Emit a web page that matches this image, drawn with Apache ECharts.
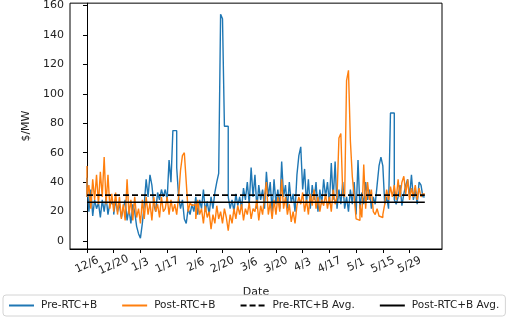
<!DOCTYPE html>
<html>
<head>
<meta charset="utf-8">
<script src="https://cdn.jsdelivr.net/npm/echarts@6/dist/echarts.min.js"></script>
<style>
  html, body { margin: 0; padding: 0; background: #fff; }
  #chart { width: 512px; height: 320px; }
</style>
</head>
<body>
<div id="chart"></div>
<script>
// daily values, index 0 = 12/6
const preRtc = [
  30, 43, 20, 35, 17, 28, 22, 26, 16, 28, 20, 30, 18, 26,
  25, 18, 28, 20, 25, 16, 22, 28, 14, 22, 12, 25, 20, 10,
  5, 2, 12, 25, 42, 30, 45, 38, 25, 20, 33, 28, 35, 30,
  35, 28, 55, 40, 75, 75, 50, 30, 22, 28, 15, 12, 22, 18, 25,
  20, 30, 18, 28, 22, 35, 20, 27, 18, 30, 22, 33, 40, 46,
  154, 151, 78, 78, 30, 22, 28, 20, 32, 24, 30, 22, 36, 28,
  40, 25, 50, 30, 45, 22, 38, 28, 35, 22, 47, 30, 40, 20,
  42, 25, 35, 22, 54, 30, 38, 22, 40, 26, 32, 20, 45, 58,
  64, 35, 49, 25, 42, 22, 38, 28, 40, 20, 35, 25, 42, 30,
  40, 25, 53, 28, 54, 22, 35, 25, 40, 22, 30, 20, 35, 25,
  40, 18, 55, 22, 33, 25, 40, 28, 35, 22, 30, 25, 38, 51,
  57, 51, 25, 30, 22, 87, 87, 28, 25, 30, 38, 24, 32, 38,
  42, 30, 45, 28, 35, 25, 40, 38, 30
];
const postRtc = [
  51, 30, 38, 22, 42, 28, 45, 25, 47, 30, 57, 25, 45, 22,
  32, 20, 33, 18, 30, 15, 25, 14, 42, 18, 28, 14, 30, 16,
  22, 12, 28, 15, 30, 18, 26, 14, 30, 20, 25, 16, 30, 20,
  22, 30, 18, 28, 20, 25, 18, 30, 48, 58, 60, 40, 20, 26, 24,
  25, 15, 28, 18, 22, 12, 24, 16, 20, 8, 18, 12, 24, 15,
  20, 12, 22, 16, 7, 18, 12, 22, 15, 24, 18, 25, 14, 22,
  18, 26, 15, 22, 20, 28, 14, 24, 18, 30, 40, 18, 26, 15,
  28, 18, 30, 20, 42, 22, 30, 18, 25, 13, 20, 12, 24, 30,
  25, 33, 20, 28, 18, 32, 24, 35, 22, 30, 20, 28, 24, 32,
  22, 30, 20, 35, 25, 30, 70, 73, 32, 30, 109, 116, 68, 44,
  30, 15, 14, 25, 16, 52, 22, 40, 28, 35, 20, 18, 22, 17,
  16, 18, 25, 35, 28, 37, 30, 38, 28, 42, 30, 40, 44, 32,
  42, 28, 36, 30, 38, 28, 36, 30, 32
];
const preAvg = 31.2;
const postAvg = 26.4;

const tickIdx = [0, 14, 28, 42, 57, 71, 85, 99, 113, 127, 141, 155, 169];
const tickLabels = ['12/6', '12/20', '1/3', '1/17', '2/6', '2/20', '3/6', '3/20', '4/3', '4/17', '5/1', '5/15', '5/29'];
const yTicks = [0, 20, 40, 60, 80, 100, 120, 140, 160];

const toPairs = (arr) => arr.map((v, i) => [i, v]);
const last = preRtc.length - 1;

const chart = echarts.init(document.getElementById('chart'));
const font = 'DejaVu Sans';

chart.setOption({
  animation: false,
  textStyle: { fontFamily: font },
  grid: {
    left: 70, right: 70, top: 3, bottom: 71,
    show: true, borderColor: '#000', borderWidth: 1,
  },
  legend: {
    left: 3, top: 295,
    padding: [5, 6, 5, 5],
    itemGap: 24,
    itemWidth: 25,
    itemHeight: 10,
    borderColor: '#d4d4d4',
    borderWidth: 1,
    borderRadius: 3,
    itemStyle: { opacity: 0 },
    textStyle: { fontFamily: font, fontSize: 10.5, color: '#222', padding: [0, 0, 0, 2] },
    data: ['Pre-RTC+B', 'Post-RTC+B', 'Pre-RTC+B Avg.', 'Post-RTC+B Avg.'],
  },
  xAxis: {
    type: 'value',
    min: -8.9,
    max: 186,
    name: 'Date',
    nameLocation: 'middle',
    nameGap: 38,
    nameTextStyle: { fontFamily: font, fontSize: 11, color: '#222' },
    splitLine: { show: false },
    axisLine: { show: true, onZero: false, lineStyle: { color: '#000', width: 1 } },
    axisTick: { show: true, length: 4, customValues: tickIdx, lineStyle: { color: '#000' } },
    axisLabel: {
      customValues: tickIdx,
      rotate: 25,
      align: 'center',
      verticalAlign: 'middle',
      margin: 16,
      fontSize: 11,
      color: '#222',
      formatter: (v) => tickLabels[tickIdx.indexOf(Math.round(v))] || '',
    },
  },
  yAxis: {
    type: 'value',
    min: -5.4,
    max: 161.6,
    name: '$/MW',
    nameLocation: 'middle',
    nameGap: 35,
    nameTextStyle: { fontFamily: font, fontSize: 11, color: '#222' },
    splitLine: { show: false },
    axisLine: { show: true, lineStyle: { color: '#000', width: 1 } },
    axisTick: { show: true, length: 4, customValues: yTicks, lineStyle: { color: '#000' } },
    axisLabel: { customValues: yTicks, fontSize: 11, color: '#222', margin: 6 },
  },
  series: [
    {
      name: 'Pre-RTC+B',
      type: 'line',
      step: 'start',
      symbol: 'none',
      data: toPairs(preRtc),
      lineStyle: { color: '#1f77b4', width: 1.4 },
      itemStyle: { color: '#1f77b4' },
    },
    {
      name: 'Post-RTC+B',
      type: 'line',
      step: 'start',
      symbol: 'none',
      data: toPairs(postRtc),
      lineStyle: { color: '#ff7f0e', width: 1.4 },
      itemStyle: { color: '#ff7f0e' },
    },
    {
      name: 'Pre-RTC+B Avg.',
      type: 'line',
      symbol: 'none',
      data: [[0, preAvg], [last, preAvg]],
      lineStyle: { color: '#000', width: 1.6, type: [6, 3] },
      itemStyle: { color: '#000' },
    },
    {
      name: 'Post-RTC+B Avg.',
      type: 'line',
      symbol: 'none',
      data: [[0, postAvg], [last, postAvg]],
      lineStyle: { color: '#000', width: 1.6 },
      itemStyle: { color: '#000' },
    },
  ],
});
</script>
</body>
</html>
